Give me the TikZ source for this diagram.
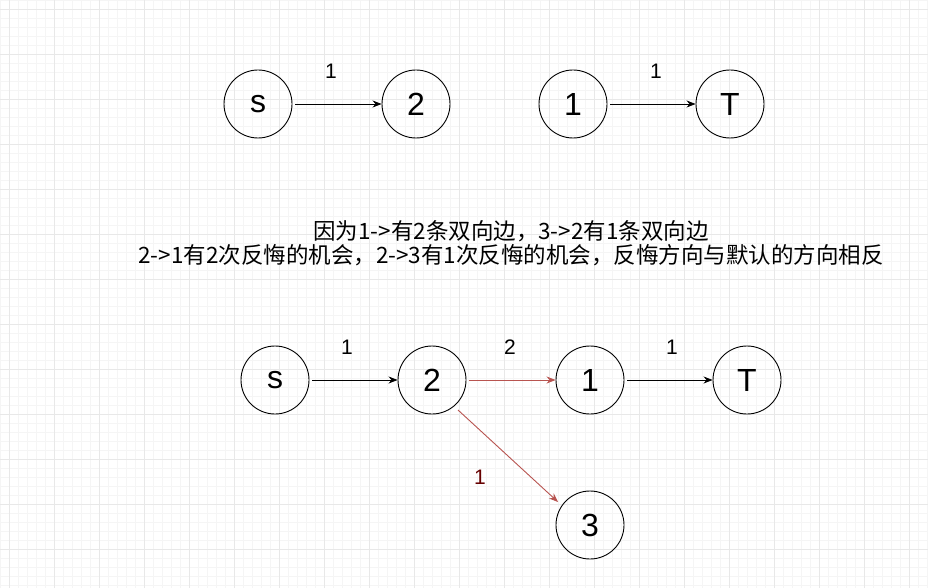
\documentclass[tikz,border=0pt]{standalone}
\usepackage{fontspec}
\setmainfont{Liberation Sans}
\newfontfamily\cjk{Noto Sans CJK SC}
\usetikzlibrary{arrows.meta}
\begin{document}
\begin{tikzpicture}[x=1pt,y=-1pt,
  vtx/.style={circle,draw,line width=0.9pt,minimum size=68pt,inner sep=0pt,font=\fontsize{32}{32}\selectfont},
  edge/.style={-{Stealth[length=9pt,width=7pt]},line width=0.9pt},
  redge/.style={edge,draw={rgb,255:red,184;green,84;blue,80}},
  lab/.style={font=\fontsize{21}{21}\selectfont}]
\useasboundingbox (0,0) rectangle (928,588);
\fill[white] (0,0) rectangle (928,588);
\foreach \i in {0,9,...,927} \draw[black!4,line width=0.5pt] (\i,0) -- (\i,588);
\foreach \i in {0,9,...,587} \draw[black!4,line width=0.5pt] (0,\i) -- (928,\i);
\foreach \i in {9,54,...,927} \draw[black!9,line width=0.6pt] (\i,0) -- (\i,588);
\foreach \i in {9,54,...,587} \draw[black!9,line width=0.6pt] (0,\i) -- (928,\i);
\node[vtx] (s1) at (258,104) {s};
\node[vtx] (a2) at (416,104) {2};
\node[vtx] (a1) at (573,104) {1};
\node[vtx] (t1) at (730,104) {T};
\draw[edge] ([xshift=3pt]s1.east) -- (a2.west);
\draw[edge] ([xshift=3pt]a1.east) -- (t1.west);
\node[lab] (l1) at (331,71) {1};
\node[lab] (l2) at (656,71) {1};
\node[font=\cjk\fontsize{22.5}{22.5}\selectfont,align=center,inner sep=0pt] (txt) at (511,243)
 {因为1->有2条双向边，3->2有1条双向边\\[2pt]2->1有2次反悔的机会，2->3有1次反悔的机会，反悔方向与默认的方向相反};
\node[vtx] (s2) at (275,380) {s};
\node[vtx] (b2) at (432,380) {2};
\node[vtx] (b1) at (590,380) {1};
\node[vtx] (t2) at (747,380) {T};
\node[vtx] (b3) at (590,525) {3};
\draw[edge] ([xshift=3pt]s2.east) -- (b2.west);
\draw[redge] ([xshift=3pt]b2.east) -- (b1.west);
\draw[edge] ([xshift=3pt]b1.east) -- (t2.west);
\draw[redge] (458,410) -- (558,502);
\node[lab] (m1) at (347,347) {1};
\node[lab] (m2) at (510,347) {2};
\node[lab] (m3) at (672,347) {1};
\node[lab,text={rgb,255:red,102;green,0;blue,0}] (m4) at (480,477) {1};
\end{tikzpicture}
\end{document}
